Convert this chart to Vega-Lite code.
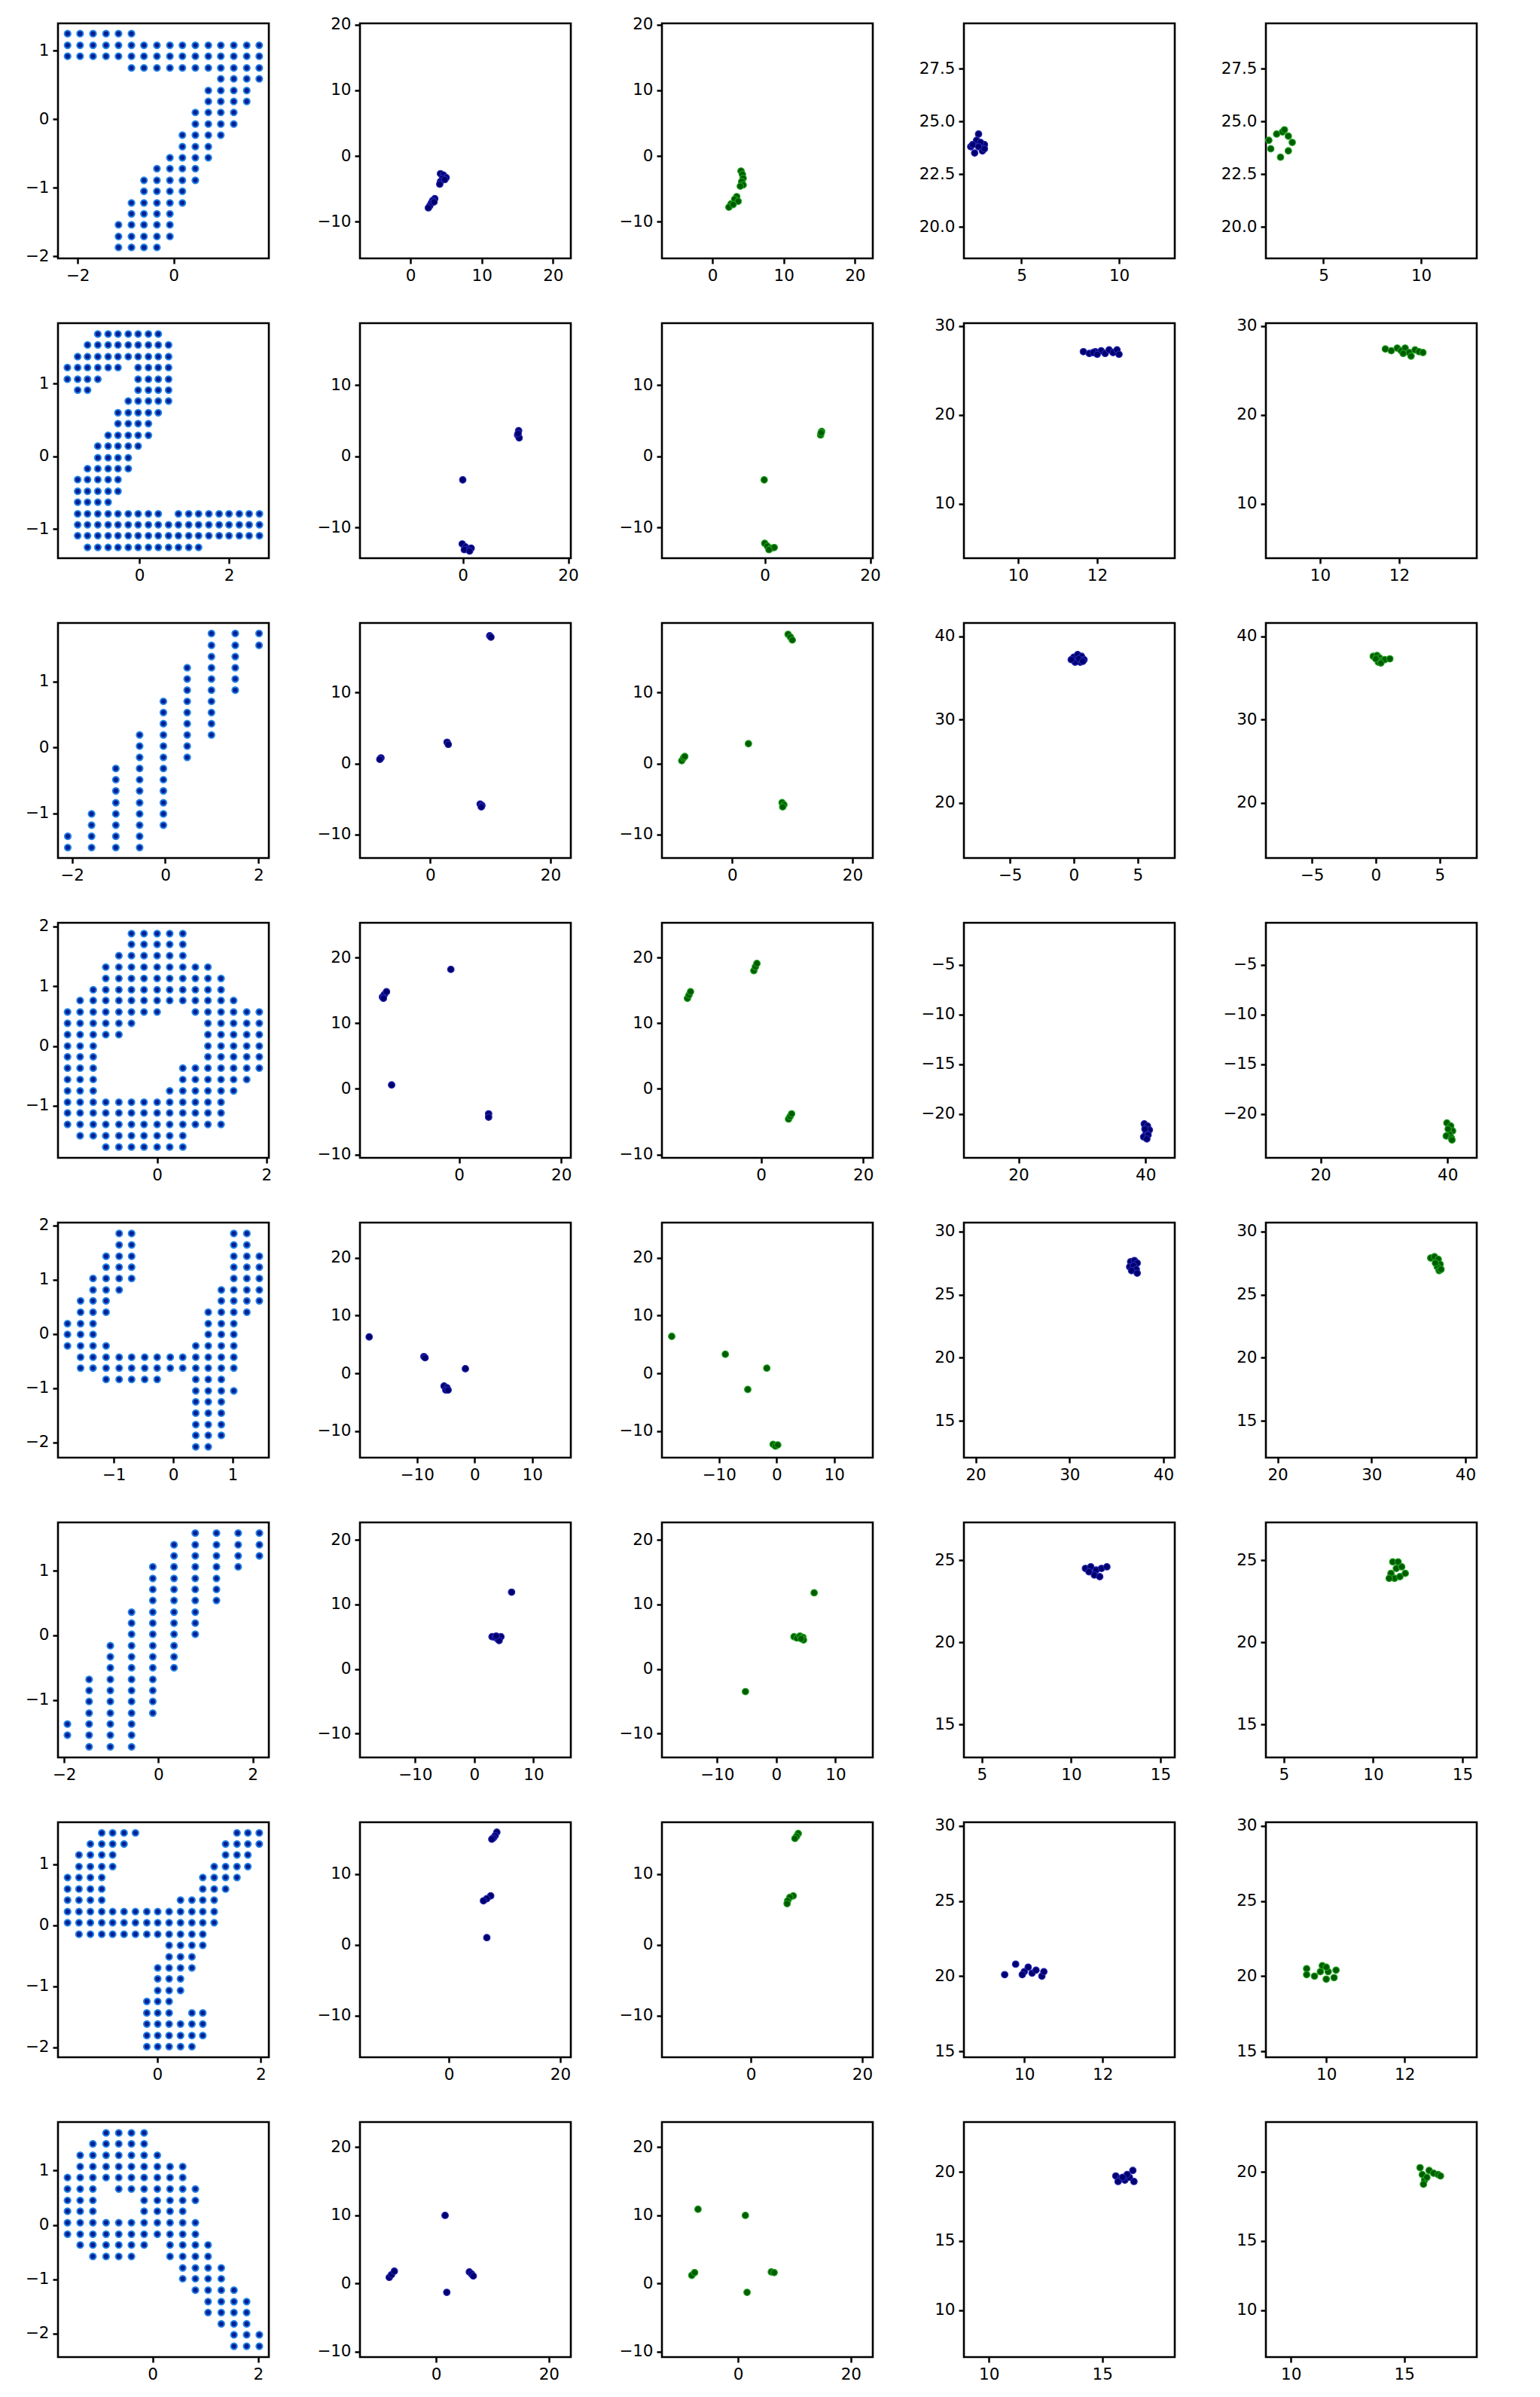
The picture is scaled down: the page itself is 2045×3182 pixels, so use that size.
{
"$schema":"https://vega.github.io/schema/vega-lite/v6.json",
"background":"white",
"padding":{"left":32,"top":20,"right":0,"bottom":0},
"columns":5,
"spacing":{"row":86,"column":121},
"bounds":"flush",
"config":{
"view":{"stroke":"#000","strokeWidth":2.6,"continuousWidth":280,"continuousHeight":312},
"axis":{"domain":false,"grid":false,"tickColor":"#000","tickSize":7,"tickWidth":2.5,"labelFont":"DejaVu Sans","labelFontSize":21.5,"labelColor":"#000","labelPadding":5,"labelFlush":false,"labelOverlap":false}
},
"datasets":{
"d1":[
{"x":-2.21,"y":1.25},{"x":-1.95,"y":1.25},{"x":-1.68,"y":1.25},{"x":-1.41,"y":1.25},{"x":-1.15,"y":1.25},{"x":-0.88,"y":1.25},
{"x":-2.21,"y":1.08},{"x":-1.95,"y":1.08},{"x":-1.68,"y":1.08},{"x":-1.41,"y":1.08},{"x":-1.15,"y":1.08},{"x":-0.88,"y":1.08},{"x":-0.62,"y":1.08},{"x":-0.35,"y":1.08},{"x":-0.08,"y":1.08},{"x":0.18,"y":1.08},{"x":0.45,"y":1.08},{"x":0.72,"y":1.08},{"x":0.98,"y":1.08},{"x":1.25,"y":1.08},{"x":1.52,"y":1.08},{"x":1.78,"y":1.08},
{"x":-2.21,"y":0.92},{"x":-1.95,"y":0.92},{"x":-1.68,"y":0.92},{"x":-1.41,"y":0.92},{"x":-1.15,"y":0.92},{"x":-0.88,"y":0.92},{"x":-0.62,"y":0.92},{"x":-0.35,"y":0.92},{"x":-0.08,"y":0.92},{"x":0.18,"y":0.92},{"x":0.45,"y":0.92},{"x":0.72,"y":0.92},{"x":0.98,"y":0.92},{"x":1.25,"y":0.92},{"x":1.52,"y":0.92},{"x":1.78,"y":0.92},
{"x":-0.88,"y":0.75},{"x":-0.62,"y":0.75},{"x":-0.35,"y":0.75},{"x":-0.08,"y":0.75},{"x":0.18,"y":0.75},{"x":0.45,"y":0.75},{"x":0.72,"y":0.75},{"x":0.98,"y":0.75},{"x":1.25,"y":0.75},{"x":1.52,"y":0.75},{"x":1.78,"y":0.75},
{"x":0.98,"y":0.59},{"x":1.25,"y":0.59},{"x":1.52,"y":0.59},{"x":1.78,"y":0.59},
{"x":0.72,"y":0.42},{"x":0.98,"y":0.42},{"x":1.25,"y":0.42},{"x":1.52,"y":0.42},
{"x":0.72,"y":0.26},{"x":0.98,"y":0.26},{"x":1.25,"y":0.26},{"x":1.52,"y":0.26},
{"x":0.45,"y":0.10},{"x":0.72,"y":0.10},{"x":0.98,"y":0.10},{"x":1.25,"y":0.10},
{"x":0.45,"y":-0.07},{"x":0.72,"y":-0.07},{"x":0.98,"y":-0.07},{"x":1.25,"y":-0.07},
{"x":0.18,"y":-0.23},{"x":0.45,"y":-0.23},{"x":0.72,"y":-0.23},{"x":0.98,"y":-0.23},
{"x":0.18,"y":-0.40},{"x":0.45,"y":-0.40},{"x":0.72,"y":-0.40},
{"x":-0.08,"y":-0.56},{"x":0.18,"y":-0.56},{"x":0.45,"y":-0.56},{"x":0.72,"y":-0.56},
{"x":-0.35,"y":-0.72},{"x":-0.08,"y":-0.72},{"x":0.18,"y":-0.72},{"x":0.45,"y":-0.72},
{"x":-0.62,"y":-0.89},{"x":-0.35,"y":-0.89},{"x":-0.08,"y":-0.89},{"x":0.18,"y":-0.89},{"x":0.45,"y":-0.89},
{"x":-0.62,"y":-1.05},{"x":-0.35,"y":-1.05},{"x":-0.08,"y":-1.05},{"x":0.18,"y":-1.05},
{"x":-0.88,"y":-1.22},{"x":-0.62,"y":-1.22},{"x":-0.35,"y":-1.22},{"x":-0.08,"y":-1.22},{"x":0.18,"y":-1.22},
{"x":-0.88,"y":-1.38},{"x":-0.62,"y":-1.38},{"x":-0.35,"y":-1.38},{"x":-0.08,"y":-1.38},
{"x":-1.15,"y":-1.54},{"x":-0.88,"y":-1.54},{"x":-0.62,"y":-1.54},{"x":-0.35,"y":-1.54},{"x":-0.08,"y":-1.54},
{"x":-1.15,"y":-1.71},{"x":-0.88,"y":-1.71},{"x":-0.62,"y":-1.71},{"x":-0.35,"y":-1.71},{"x":-0.08,"y":-1.71},
{"x":-1.15,"y":-1.87},{"x":-0.88,"y":-1.87},{"x":-0.62,"y":-1.87},{"x":-0.35,"y":-1.87}
],
"d2":[
{"x":-0.93,"y":1.68},{"x":-0.70,"y":1.68},{"x":-0.48,"y":1.68},{"x":-0.25,"y":1.68},{"x":-0.03,"y":1.68},{"x":0.20,"y":1.68},{"x":0.42,"y":1.68},
{"x":-1.16,"y":1.53},{"x":-0.93,"y":1.53},{"x":-0.70,"y":1.53},{"x":-0.48,"y":1.53},{"x":-0.25,"y":1.53},{"x":-0.03,"y":1.53},{"x":0.20,"y":1.53},{"x":0.42,"y":1.53},{"x":0.65,"y":1.53},
{"x":-1.38,"y":1.37},{"x":-1.16,"y":1.37},{"x":-0.93,"y":1.37},{"x":-0.70,"y":1.37},{"x":-0.48,"y":1.37},{"x":-0.25,"y":1.37},{"x":-0.03,"y":1.37},{"x":0.20,"y":1.37},{"x":0.42,"y":1.37},{"x":0.65,"y":1.37},
{"x":-1.61,"y":1.22},{"x":-1.38,"y":1.22},{"x":-1.16,"y":1.22},{"x":-0.93,"y":1.22},{"x":-0.70,"y":1.22},{"x":-0.48,"y":1.22},{"x":-0.03,"y":1.22},{"x":0.20,"y":1.22},{"x":0.42,"y":1.22},{"x":0.65,"y":1.22},
{"x":-1.61,"y":1.06},{"x":-1.38,"y":1.06},{"x":-1.16,"y":1.06},{"x":-0.93,"y":1.06},{"x":-0.03,"y":1.06},{"x":0.20,"y":1.06},{"x":0.42,"y":1.06},{"x":0.65,"y":1.06},
{"x":-1.38,"y":0.91},{"x":-1.16,"y":0.91},{"x":-0.03,"y":0.91},{"x":0.20,"y":0.91},{"x":0.42,"y":0.91},{"x":0.65,"y":0.91},
{"x":-0.25,"y":0.76},{"x":-0.03,"y":0.76},{"x":0.20,"y":0.76},{"x":0.42,"y":0.76},{"x":0.65,"y":0.76},
{"x":-0.48,"y":0.60},{"x":-0.25,"y":0.60},{"x":-0.03,"y":0.60},{"x":0.20,"y":0.60},{"x":0.42,"y":0.60},
{"x":-0.48,"y":0.45},{"x":-0.25,"y":0.45},{"x":-0.03,"y":0.45},{"x":0.20,"y":0.45},
{"x":-0.70,"y":0.29},{"x":-0.48,"y":0.29},{"x":-0.25,"y":0.29},{"x":-0.03,"y":0.29},{"x":0.20,"y":0.29},
{"x":-0.93,"y":0.14},{"x":-0.70,"y":0.14},{"x":-0.48,"y":0.14},{"x":-0.25,"y":0.14},{"x":-0.03,"y":0.14},
{"x":-0.93,"y":-0.02},{"x":-0.70,"y":-0.02},{"x":-0.48,"y":-0.02},{"x":-0.25,"y":-0.02},
{"x":-1.16,"y":-0.17},{"x":-0.93,"y":-0.17},{"x":-0.70,"y":-0.17},{"x":-0.48,"y":-0.17},{"x":-0.25,"y":-0.17},
{"x":-1.38,"y":-0.32},{"x":-1.16,"y":-0.32},{"x":-0.93,"y":-0.32},{"x":-0.70,"y":-0.32},{"x":-0.48,"y":-0.32},
{"x":-1.38,"y":-0.48},{"x":-1.16,"y":-0.48},{"x":-0.93,"y":-0.48},{"x":-0.70,"y":-0.48},{"x":-0.48,"y":-0.48},
{"x":-1.38,"y":-0.63},{"x":-1.16,"y":-0.63},{"x":-0.93,"y":-0.63},{"x":-0.70,"y":-0.63},
{"x":-1.38,"y":-0.79},{"x":-1.16,"y":-0.79},{"x":-0.93,"y":-0.79},{"x":-0.70,"y":-0.79},{"x":-0.48,"y":-0.79},{"x":-0.25,"y":-0.79},{"x":-0.03,"y":-0.79},{"x":0.20,"y":-0.79},{"x":0.42,"y":-0.79},{"x":0.87,"y":-0.79},{"x":1.10,"y":-0.79},{"x":1.32,"y":-0.79},{"x":1.55,"y":-0.79},{"x":1.78,"y":-0.79},{"x":2.00,"y":-0.79},{"x":2.23,"y":-0.79},{"x":2.45,"y":-0.79},{"x":2.68,"y":-0.79},
{"x":-1.38,"y":-0.94},{"x":-1.16,"y":-0.94},{"x":-0.93,"y":-0.94},{"x":-0.70,"y":-0.94},{"x":-0.48,"y":-0.94},{"x":-0.25,"y":-0.94},{"x":-0.03,"y":-0.94},{"x":0.20,"y":-0.94},{"x":0.42,"y":-0.94},{"x":0.65,"y":-0.94},{"x":0.87,"y":-0.94},{"x":1.10,"y":-0.94},{"x":1.32,"y":-0.94},{"x":1.55,"y":-0.94},{"x":1.78,"y":-0.94},{"x":2.00,"y":-0.94},{"x":2.23,"y":-0.94},{"x":2.45,"y":-0.94},{"x":2.68,"y":-0.94},
{"x":-1.38,"y":-1.09},{"x":-1.16,"y":-1.09},{"x":-0.93,"y":-1.09},{"x":-0.70,"y":-1.09},{"x":-0.48,"y":-1.09},{"x":-0.25,"y":-1.09},{"x":-0.03,"y":-1.09},{"x":0.20,"y":-1.09},{"x":0.42,"y":-1.09},{"x":0.65,"y":-1.09},{"x":0.87,"y":-1.09},{"x":1.10,"y":-1.09},{"x":1.32,"y":-1.09},{"x":1.55,"y":-1.09},{"x":1.78,"y":-1.09},{"x":2.00,"y":-1.09},{"x":2.23,"y":-1.09},{"x":2.45,"y":-1.09},{"x":2.68,"y":-1.09},
{"x":-1.16,"y":-1.25},{"x":-0.93,"y":-1.25},{"x":-0.70,"y":-1.25},{"x":-0.48,"y":-1.25},{"x":-0.25,"y":-1.25},{"x":-0.03,"y":-1.25},{"x":0.20,"y":-1.25},{"x":0.42,"y":-1.25},{"x":0.65,"y":-1.25},{"x":0.87,"y":-1.25},{"x":1.10,"y":-1.25},{"x":1.32,"y":-1.25}
],
"d3":[
{"x":2.01,"y":1.73},{"x":2.01,"y":1.55},
{"x":1.50,"y":1.73},{"x":1.50,"y":1.55},{"x":1.50,"y":1.38},{"x":1.50,"y":1.21},{"x":1.50,"y":1.04},{"x":1.50,"y":0.87},
{"x":0.99,"y":1.73},{"x":0.99,"y":1.55},{"x":0.99,"y":1.38},{"x":0.99,"y":1.21},{"x":0.99,"y":1.04},{"x":0.99,"y":0.87},{"x":0.99,"y":0.70},{"x":0.99,"y":0.53},{"x":0.99,"y":0.36},{"x":0.99,"y":0.19},
{"x":0.47,"y":1.21},{"x":0.47,"y":1.04},{"x":0.47,"y":0.87},{"x":0.47,"y":0.70},{"x":0.47,"y":0.53},{"x":0.47,"y":0.36},{"x":0.47,"y":0.19},{"x":0.47,"y":0.02},{"x":0.47,"y":-0.15},
{"x":-0.04,"y":0.70},{"x":-0.04,"y":0.53},{"x":-0.04,"y":0.36},{"x":-0.04,"y":0.19},{"x":-0.04,"y":0.02},{"x":-0.04,"y":-0.15},{"x":-0.04,"y":-0.32},{"x":-0.04,"y":-0.49},{"x":-0.04,"y":-0.66},{"x":-0.04,"y":-0.84},{"x":-0.04,"y":-1.01},{"x":-0.04,"y":-1.18},
{"x":-0.55,"y":0.19},{"x":-0.55,"y":0.02},{"x":-0.55,"y":-0.15},{"x":-0.55,"y":-0.32},{"x":-0.55,"y":-0.49},{"x":-0.55,"y":-0.66},{"x":-0.55,"y":-0.84},{"x":-0.55,"y":-1.01},{"x":-0.55,"y":-1.18},{"x":-0.55,"y":-1.35},{"x":-0.55,"y":-1.52},
{"x":-1.06,"y":-0.32},{"x":-1.06,"y":-0.49},{"x":-1.06,"y":-0.66},{"x":-1.06,"y":-0.84},{"x":-1.06,"y":-1.01},{"x":-1.06,"y":-1.18},{"x":-1.06,"y":-1.35},{"x":-1.06,"y":-1.52},
{"x":-1.58,"y":-1.01},{"x":-1.58,"y":-1.18},{"x":-1.58,"y":-1.35},{"x":-1.58,"y":-1.52},
{"x":-2.09,"y":-1.35},{"x":-2.09,"y":-1.52}
],
"d4":[
{"x":-0.47,"y":1.88},{"x":-0.24,"y":1.88},{"x":0.00,"y":1.88},{"x":0.23,"y":1.88},{"x":0.47,"y":1.88},
{"x":-0.47,"y":1.70},{"x":-0.24,"y":1.70},{"x":0.00,"y":1.70},{"x":0.23,"y":1.70},{"x":0.47,"y":1.70},
{"x":-0.70,"y":1.51},{"x":-0.47,"y":1.51},{"x":-0.24,"y":1.51},{"x":0.00,"y":1.51},{"x":0.23,"y":1.51},{"x":0.47,"y":1.51},
{"x":-0.94,"y":1.32},{"x":-0.70,"y":1.32},{"x":-0.47,"y":1.32},{"x":-0.24,"y":1.32},{"x":0.00,"y":1.32},{"x":0.23,"y":1.32},{"x":0.47,"y":1.32},{"x":0.70,"y":1.32},{"x":0.93,"y":1.32},
{"x":-0.94,"y":1.13},{"x":-0.70,"y":1.13},{"x":-0.47,"y":1.13},{"x":-0.24,"y":1.13},{"x":0.00,"y":1.13},{"x":0.23,"y":1.13},{"x":0.47,"y":1.13},{"x":0.70,"y":1.13},{"x":0.93,"y":1.13},{"x":1.17,"y":1.13},
{"x":-1.17,"y":0.94},{"x":-0.94,"y":0.94},{"x":-0.70,"y":0.94},{"x":-0.47,"y":0.94},{"x":-0.24,"y":0.94},{"x":0.00,"y":0.94},{"x":0.23,"y":0.94},{"x":0.47,"y":0.94},{"x":0.70,"y":0.94},{"x":0.93,"y":0.94},{"x":1.17,"y":0.94},
{"x":-1.41,"y":0.76},{"x":-1.17,"y":0.76},{"x":-0.94,"y":0.76},{"x":-0.70,"y":0.76},{"x":-0.47,"y":0.76},{"x":-0.24,"y":0.76},{"x":0.00,"y":0.76},{"x":0.23,"y":0.76},{"x":0.47,"y":0.76},{"x":0.70,"y":0.76},{"x":0.93,"y":0.76},{"x":1.17,"y":0.76},{"x":1.40,"y":0.76},
{"x":-1.64,"y":0.57},{"x":-1.41,"y":0.57},{"x":-1.17,"y":0.57},{"x":-0.94,"y":0.57},{"x":-0.70,"y":0.57},{"x":-0.47,"y":0.57},{"x":-0.24,"y":0.57},{"x":0.00,"y":0.57},{"x":0.70,"y":0.57},{"x":0.93,"y":0.57},{"x":1.17,"y":0.57},{"x":1.40,"y":0.57},{"x":1.64,"y":0.57},{"x":1.87,"y":0.57},
{"x":-1.64,"y":0.38},{"x":-1.41,"y":0.38},{"x":-1.17,"y":0.38},{"x":-0.94,"y":0.38},{"x":-0.70,"y":0.38},{"x":-0.47,"y":0.38},{"x":0.93,"y":0.38},{"x":1.17,"y":0.38},{"x":1.40,"y":0.38},{"x":1.64,"y":0.38},{"x":1.87,"y":0.38},
{"x":-1.64,"y":0.19},{"x":-1.41,"y":0.19},{"x":-1.17,"y":0.19},{"x":-0.94,"y":0.19},{"x":-0.70,"y":0.19},{"x":0.93,"y":0.19},{"x":1.17,"y":0.19},{"x":1.40,"y":0.19},{"x":1.64,"y":0.19},{"x":1.87,"y":0.19},
{"x":-1.64,"y":0.00},{"x":-1.41,"y":0.00},{"x":-1.17,"y":0.00},{"x":0.93,"y":0.00},{"x":1.17,"y":0.00},{"x":1.40,"y":0.00},{"x":1.64,"y":0.00},{"x":1.87,"y":0.00},
{"x":-1.64,"y":-0.18},{"x":-1.41,"y":-0.18},{"x":-1.17,"y":-0.18},{"x":0.93,"y":-0.18},{"x":1.17,"y":-0.18},{"x":1.40,"y":-0.18},{"x":1.64,"y":-0.18},{"x":1.87,"y":-0.18},
{"x":-1.64,"y":-0.37},{"x":-1.41,"y":-0.37},{"x":-1.17,"y":-0.37},{"x":0.47,"y":-0.37},{"x":0.70,"y":-0.37},{"x":0.93,"y":-0.37},{"x":1.17,"y":-0.37},{"x":1.40,"y":-0.37},{"x":1.64,"y":-0.37},{"x":1.87,"y":-0.37},
{"x":-1.64,"y":-0.56},{"x":-1.41,"y":-0.56},{"x":-1.17,"y":-0.56},{"x":0.47,"y":-0.56},{"x":0.70,"y":-0.56},{"x":0.93,"y":-0.56},{"x":1.17,"y":-0.56},{"x":1.40,"y":-0.56},{"x":1.64,"y":-0.56},
{"x":-1.64,"y":-0.75},{"x":-1.41,"y":-0.75},{"x":-1.17,"y":-0.75},{"x":0.23,"y":-0.75},{"x":0.47,"y":-0.75},{"x":0.70,"y":-0.75},{"x":0.93,"y":-0.75},{"x":1.17,"y":-0.75},{"x":1.40,"y":-0.75},
{"x":-1.64,"y":-0.94},{"x":-1.41,"y":-0.94},{"x":-1.17,"y":-0.94},{"x":-0.94,"y":-0.94},{"x":-0.70,"y":-0.94},{"x":-0.47,"y":-0.94},{"x":-0.24,"y":-0.94},{"x":0.00,"y":-0.94},{"x":0.23,"y":-0.94},{"x":0.47,"y":-0.94},{"x":0.70,"y":-0.94},{"x":0.93,"y":-0.94},{"x":1.17,"y":-0.94},
{"x":-1.64,"y":-1.12},{"x":-1.41,"y":-1.12},{"x":-1.17,"y":-1.12},{"x":-0.94,"y":-1.12},{"x":-0.70,"y":-1.12},{"x":-0.47,"y":-1.12},{"x":-0.24,"y":-1.12},{"x":0.00,"y":-1.12},{"x":0.23,"y":-1.12},{"x":0.47,"y":-1.12},{"x":0.70,"y":-1.12},{"x":0.93,"y":-1.12},{"x":1.17,"y":-1.12},
{"x":-1.64,"y":-1.31},{"x":-1.41,"y":-1.31},{"x":-1.17,"y":-1.31},{"x":-0.94,"y":-1.31},{"x":-0.70,"y":-1.31},{"x":-0.47,"y":-1.31},{"x":-0.24,"y":-1.31},{"x":0.00,"y":-1.31},{"x":0.23,"y":-1.31},{"x":0.47,"y":-1.31},{"x":0.70,"y":-1.31},{"x":0.93,"y":-1.31},{"x":1.17,"y":-1.31},
{"x":-1.41,"y":-1.50},{"x":-1.17,"y":-1.50},{"x":-0.94,"y":-1.50},{"x":-0.70,"y":-1.50},{"x":-0.47,"y":-1.50},{"x":-0.24,"y":-1.50},{"x":0.00,"y":-1.50},{"x":0.23,"y":-1.50},{"x":0.47,"y":-1.50},
{"x":-0.94,"y":-1.69},{"x":-0.70,"y":-1.69},{"x":-0.47,"y":-1.69},{"x":-0.24,"y":-1.69},{"x":0.00,"y":-1.69},{"x":0.23,"y":-1.69},{"x":0.47,"y":-1.69}
],
"d5":[
{"x":-0.91,"y":1.85},{"x":-0.70,"y":1.85},{"x":1.02,"y":1.85},{"x":1.24,"y":1.85},
{"x":-0.91,"y":1.64},{"x":-0.70,"y":1.64},{"x":1.02,"y":1.64},{"x":1.24,"y":1.64},
{"x":-1.13,"y":1.43},{"x":-0.91,"y":1.43},{"x":-0.70,"y":1.43},{"x":1.02,"y":1.43},{"x":1.24,"y":1.43},{"x":1.45,"y":1.43},
{"x":-1.13,"y":1.23},{"x":-0.91,"y":1.23},{"x":-0.70,"y":1.23},{"x":1.02,"y":1.23},{"x":1.24,"y":1.23},{"x":1.45,"y":1.23},
{"x":-1.35,"y":1.02},{"x":-1.13,"y":1.02},{"x":-0.91,"y":1.02},{"x":-0.70,"y":1.02},{"x":1.02,"y":1.02},{"x":1.24,"y":1.02},{"x":1.45,"y":1.02},
{"x":-1.35,"y":0.81},{"x":-1.13,"y":0.81},{"x":-0.91,"y":0.81},{"x":0.81,"y":0.81},{"x":1.02,"y":0.81},{"x":1.24,"y":0.81},{"x":1.45,"y":0.81},
{"x":-1.56,"y":0.61},{"x":-1.35,"y":0.61},{"x":-1.13,"y":0.61},{"x":0.81,"y":0.61},{"x":1.02,"y":0.61},{"x":1.24,"y":0.61},{"x":1.45,"y":0.61},
{"x":-1.56,"y":0.40},{"x":-1.35,"y":0.40},{"x":-1.13,"y":0.40},{"x":0.59,"y":0.40},{"x":0.81,"y":0.40},{"x":1.02,"y":0.40},{"x":1.24,"y":0.40},
{"x":-1.78,"y":0.19},{"x":-1.56,"y":0.19},{"x":-1.35,"y":0.19},{"x":0.59,"y":0.19},{"x":0.81,"y":0.19},{"x":1.02,"y":0.19},
{"x":-1.78,"y":-0.01},{"x":-1.56,"y":-0.01},{"x":-1.35,"y":-0.01},{"x":0.59,"y":-0.01},{"x":0.81,"y":-0.01},{"x":1.02,"y":-0.01},
{"x":-1.78,"y":-0.22},{"x":-1.56,"y":-0.22},{"x":-1.35,"y":-0.22},{"x":-1.13,"y":-0.22},{"x":0.38,"y":-0.22},{"x":0.59,"y":-0.22},{"x":0.81,"y":-0.22},{"x":1.02,"y":-0.22},
{"x":-1.56,"y":-0.43},{"x":-1.35,"y":-0.43},{"x":-1.13,"y":-0.43},{"x":-0.91,"y":-0.43},{"x":-0.70,"y":-0.43},{"x":-0.48,"y":-0.43},{"x":-0.27,"y":-0.43},{"x":-0.05,"y":-0.43},{"x":0.16,"y":-0.43},{"x":0.38,"y":-0.43},{"x":0.59,"y":-0.43},{"x":0.81,"y":-0.43},{"x":1.02,"y":-0.43},
{"x":-1.56,"y":-0.63},{"x":-1.35,"y":-0.63},{"x":-1.13,"y":-0.63},{"x":-0.91,"y":-0.63},{"x":-0.70,"y":-0.63},{"x":-0.48,"y":-0.63},{"x":-0.27,"y":-0.63},{"x":-0.05,"y":-0.63},{"x":0.16,"y":-0.63},{"x":0.38,"y":-0.63},{"x":0.59,"y":-0.63},{"x":0.81,"y":-0.63},{"x":1.02,"y":-0.63},
{"x":-1.13,"y":-0.84},{"x":-0.91,"y":-0.84},{"x":-0.70,"y":-0.84},{"x":-0.48,"y":-0.84},{"x":-0.27,"y":-0.84},{"x":0.38,"y":-0.84},{"x":0.59,"y":-0.84},{"x":0.81,"y":-0.84},
{"x":0.38,"y":-1.05},{"x":0.59,"y":-1.05},{"x":0.81,"y":-1.05},{"x":1.02,"y":-1.05},
{"x":0.38,"y":-1.25},{"x":0.59,"y":-1.25},{"x":0.81,"y":-1.25},
{"x":0.38,"y":-1.46},{"x":0.59,"y":-1.46},{"x":0.81,"y":-1.46},
{"x":0.38,"y":-1.67},{"x":0.59,"y":-1.67},{"x":0.81,"y":-1.67},
{"x":0.38,"y":-1.87},{"x":0.59,"y":-1.87},{"x":0.81,"y":-1.87},
{"x":0.38,"y":-2.08},{"x":0.59,"y":-2.08}
],
"d6":[
{"x":2.14,"y":1.58},{"x":2.14,"y":1.40},{"x":2.14,"y":1.23},
{"x":1.69,"y":1.58},{"x":1.69,"y":1.40},{"x":1.69,"y":1.23},{"x":1.69,"y":1.06},
{"x":1.23,"y":1.58},{"x":1.23,"y":1.40},{"x":1.23,"y":1.23},{"x":1.23,"y":1.06},{"x":1.23,"y":0.88},{"x":1.23,"y":0.71},{"x":1.23,"y":0.54},
{"x":0.78,"y":1.58},{"x":0.78,"y":1.40},{"x":0.78,"y":1.23},{"x":0.78,"y":1.06},{"x":0.78,"y":0.88},{"x":0.78,"y":0.71},{"x":0.78,"y":0.54},{"x":0.78,"y":0.36},{"x":0.78,"y":0.19},{"x":0.78,"y":0.02},
{"x":0.33,"y":1.40},{"x":0.33,"y":1.23},{"x":0.33,"y":1.06},{"x":0.33,"y":0.88},{"x":0.33,"y":0.71},{"x":0.33,"y":0.54},{"x":0.33,"y":0.36},{"x":0.33,"y":0.19},{"x":0.33,"y":0.02},{"x":0.33,"y":-0.16},{"x":0.33,"y":-0.33},{"x":0.33,"y":-0.50},
{"x":-0.12,"y":1.06},{"x":-0.12,"y":0.88},{"x":-0.12,"y":0.71},{"x":-0.12,"y":0.54},{"x":-0.12,"y":0.36},{"x":-0.12,"y":0.19},{"x":-0.12,"y":0.02},{"x":-0.12,"y":-0.16},{"x":-0.12,"y":-0.33},{"x":-0.12,"y":-0.50},{"x":-0.12,"y":-0.68},{"x":-0.12,"y":-0.85},{"x":-0.12,"y":-1.02},{"x":-0.12,"y":-1.20},
{"x":-0.57,"y":0.36},{"x":-0.57,"y":0.19},{"x":-0.57,"y":0.02},{"x":-0.57,"y":-0.16},{"x":-0.57,"y":-0.33},{"x":-0.57,"y":-0.50},{"x":-0.57,"y":-0.68},{"x":-0.57,"y":-0.85},{"x":-0.57,"y":-1.02},{"x":-0.57,"y":-1.20},{"x":-0.57,"y":-1.37},{"x":-0.57,"y":-1.54},{"x":-0.57,"y":-1.72},
{"x":-1.02,"y":-0.16},{"x":-1.02,"y":-0.33},{"x":-1.02,"y":-0.50},{"x":-1.02,"y":-0.68},{"x":-1.02,"y":-0.85},{"x":-1.02,"y":-1.02},{"x":-1.02,"y":-1.20},{"x":-1.02,"y":-1.37},{"x":-1.02,"y":-1.54},{"x":-1.02,"y":-1.72},
{"x":-1.47,"y":-0.68},{"x":-1.47,"y":-0.85},{"x":-1.47,"y":-1.02},{"x":-1.47,"y":-1.20},{"x":-1.47,"y":-1.37},{"x":-1.47,"y":-1.54},{"x":-1.47,"y":-1.72},
{"x":-1.93,"y":-1.37},{"x":-1.93,"y":-1.54}
],
"d7":[
{"x":-1.07,"y":1.51},{"x":-0.86,"y":1.51},{"x":-0.64,"y":1.51},{"x":-0.42,"y":1.51},{"x":1.54,"y":1.51},{"x":1.75,"y":1.51},{"x":1.97,"y":1.51},
{"x":-1.29,"y":1.33},{"x":-1.07,"y":1.33},{"x":-0.86,"y":1.33},{"x":-0.64,"y":1.33},{"x":1.32,"y":1.33},{"x":1.54,"y":1.33},{"x":1.75,"y":1.33},{"x":1.97,"y":1.33},
{"x":-1.51,"y":1.15},{"x":-1.29,"y":1.15},{"x":-1.07,"y":1.15},{"x":-0.86,"y":1.15},{"x":1.32,"y":1.15},{"x":1.54,"y":1.15},{"x":1.75,"y":1.15},
{"x":-1.51,"y":0.96},{"x":-1.29,"y":0.96},{"x":-1.07,"y":0.96},{"x":-0.86,"y":0.96},{"x":1.10,"y":0.96},{"x":1.32,"y":0.96},{"x":1.54,"y":0.96},{"x":1.75,"y":0.96},
{"x":-1.73,"y":0.78},{"x":-1.51,"y":0.78},{"x":-1.29,"y":0.78},{"x":-1.07,"y":0.78},{"x":0.88,"y":0.78},{"x":1.10,"y":0.78},{"x":1.32,"y":0.78},{"x":1.54,"y":0.78},
{"x":-1.73,"y":0.59},{"x":-1.51,"y":0.59},{"x":-1.29,"y":0.59},{"x":-1.07,"y":0.59},{"x":0.88,"y":0.59},{"x":1.10,"y":0.59},{"x":1.32,"y":0.59},
{"x":-1.73,"y":0.41},{"x":-1.51,"y":0.41},{"x":-1.29,"y":0.41},{"x":-1.07,"y":0.41},{"x":0.45,"y":0.41},{"x":0.67,"y":0.41},{"x":0.88,"y":0.41},{"x":1.10,"y":0.41},
{"x":-1.73,"y":0.22},{"x":-1.51,"y":0.22},{"x":-1.29,"y":0.22},{"x":-1.07,"y":0.22},{"x":-0.86,"y":0.22},{"x":-0.64,"y":0.22},{"x":-0.42,"y":0.22},{"x":-0.20,"y":0.22},{"x":0.01,"y":0.22},{"x":0.23,"y":0.22},{"x":0.45,"y":0.22},{"x":0.67,"y":0.22},{"x":0.88,"y":0.22},{"x":1.10,"y":0.22},
{"x":-1.73,"y":0.04},{"x":-1.51,"y":0.04},{"x":-1.29,"y":0.04},{"x":-1.07,"y":0.04},{"x":-0.86,"y":0.04},{"x":-0.64,"y":0.04},{"x":-0.42,"y":0.04},{"x":-0.20,"y":0.04},{"x":0.01,"y":0.04},{"x":0.23,"y":0.04},{"x":0.45,"y":0.04},{"x":0.67,"y":0.04},{"x":0.88,"y":0.04},{"x":1.10,"y":0.04},
{"x":-1.51,"y":-0.15},{"x":-1.29,"y":-0.15},{"x":-1.07,"y":-0.15},{"x":-0.86,"y":-0.15},{"x":-0.64,"y":-0.15},{"x":-0.42,"y":-0.15},{"x":-0.20,"y":-0.15},{"x":0.01,"y":-0.15},{"x":0.23,"y":-0.15},{"x":0.45,"y":-0.15},{"x":0.67,"y":-0.15},{"x":0.88,"y":-0.15},
{"x":0.23,"y":-0.33},{"x":0.45,"y":-0.33},{"x":0.67,"y":-0.33},{"x":0.88,"y":-0.33},
{"x":0.23,"y":-0.52},{"x":0.45,"y":-0.52},{"x":0.67,"y":-0.52},
{"x":0.01,"y":-0.70},{"x":0.23,"y":-0.70},{"x":0.45,"y":-0.70},{"x":0.67,"y":-0.70},
{"x":0.01,"y":-0.88},{"x":0.23,"y":-0.88},{"x":0.45,"y":-0.88},
{"x":0.01,"y":-1.07},{"x":0.23,"y":-1.07},{"x":0.45,"y":-1.07},
{"x":-0.20,"y":-1.25},{"x":0.01,"y":-1.25},{"x":0.23,"y":-1.25},
{"x":-0.20,"y":-1.44},{"x":0.01,"y":-1.44},{"x":0.23,"y":-1.44},{"x":0.67,"y":-1.44},{"x":0.88,"y":-1.44},
{"x":-0.20,"y":-1.62},{"x":0.01,"y":-1.62},{"x":0.23,"y":-1.62},{"x":0.45,"y":-1.62},{"x":0.67,"y":-1.62},{"x":0.88,"y":-1.62},
{"x":-0.20,"y":-1.81},{"x":0.01,"y":-1.81},{"x":0.23,"y":-1.81},{"x":0.45,"y":-1.81},{"x":0.67,"y":-1.81},{"x":0.88,"y":-1.81},
{"x":-0.20,"y":-1.99},{"x":0.01,"y":-1.99},{"x":0.23,"y":-1.99},{"x":0.45,"y":-1.99},{"x":0.67,"y":-1.99}
],
"d8":[
{"x":-0.88,"y":1.69},{"x":-0.64,"y":1.69},{"x":-0.40,"y":1.69},{"x":-0.16,"y":1.69},
{"x":-1.13,"y":1.49},{"x":-0.88,"y":1.49},{"x":-0.64,"y":1.49},{"x":-0.40,"y":1.49},{"x":-0.16,"y":1.49},
{"x":-1.37,"y":1.28},{"x":-1.13,"y":1.28},{"x":-0.88,"y":1.28},{"x":-0.64,"y":1.28},{"x":-0.40,"y":1.28},{"x":-0.16,"y":1.28},{"x":0.09,"y":1.28},
{"x":-1.37,"y":1.07},{"x":-1.13,"y":1.07},{"x":-0.88,"y":1.07},{"x":-0.64,"y":1.07},{"x":-0.40,"y":1.07},{"x":-0.16,"y":1.07},{"x":0.09,"y":1.07},{"x":0.33,"y":1.07},{"x":0.57,"y":1.07},
{"x":-1.61,"y":0.87},{"x":-1.37,"y":0.87},{"x":-1.13,"y":0.87},{"x":-0.88,"y":0.87},{"x":-0.64,"y":0.87},{"x":-0.40,"y":0.87},{"x":-0.16,"y":0.87},{"x":0.09,"y":0.87},{"x":0.33,"y":0.87},{"x":0.57,"y":0.87},
{"x":-1.61,"y":0.66},{"x":-1.37,"y":0.66},{"x":-1.13,"y":0.66},{"x":-0.64,"y":0.66},{"x":-0.40,"y":0.66},{"x":-0.16,"y":0.66},{"x":0.09,"y":0.66},{"x":0.33,"y":0.66},{"x":0.57,"y":0.66},{"x":0.81,"y":0.66},
{"x":-1.61,"y":0.45},{"x":-1.37,"y":0.45},{"x":-1.13,"y":0.45},{"x":-0.16,"y":0.45},{"x":0.09,"y":0.45},{"x":0.33,"y":0.45},{"x":0.57,"y":0.45},{"x":0.81,"y":0.45},
{"x":-1.61,"y":0.25},{"x":-1.37,"y":0.25},{"x":-1.13,"y":0.25},{"x":-0.16,"y":0.25},{"x":0.09,"y":0.25},{"x":0.33,"y":0.25},{"x":0.57,"y":0.25},
{"x":-1.61,"y":0.04},{"x":-1.37,"y":0.04},{"x":-1.13,"y":0.04},{"x":-0.88,"y":0.04},{"x":-0.64,"y":0.04},{"x":-0.40,"y":0.04},{"x":-0.16,"y":0.04},{"x":0.09,"y":0.04},{"x":0.33,"y":0.04},{"x":0.57,"y":0.04},{"x":0.81,"y":0.04},
{"x":-1.61,"y":-0.17},{"x":-1.37,"y":-0.17},{"x":-1.13,"y":-0.17},{"x":-0.88,"y":-0.17},{"x":-0.64,"y":-0.17},{"x":-0.40,"y":-0.17},{"x":-0.16,"y":-0.17},{"x":0.09,"y":-0.17},{"x":0.33,"y":-0.17},{"x":0.57,"y":-0.17},{"x":0.81,"y":-0.17},
{"x":-1.37,"y":-0.37},{"x":-1.13,"y":-0.37},{"x":-0.88,"y":-0.37},{"x":-0.64,"y":-0.37},{"x":-0.40,"y":-0.37},{"x":-0.16,"y":-0.37},{"x":0.33,"y":-0.37},{"x":0.57,"y":-0.37},{"x":0.81,"y":-0.37},{"x":1.05,"y":-0.37},
{"x":-1.13,"y":-0.58},{"x":-0.88,"y":-0.58},{"x":-0.64,"y":-0.58},{"x":-0.40,"y":-0.58},{"x":0.33,"y":-0.58},{"x":0.57,"y":-0.58},{"x":0.81,"y":-0.58},{"x":1.05,"y":-0.58},
{"x":0.57,"y":-0.79},{"x":0.81,"y":-0.79},{"x":1.05,"y":-0.79},{"x":1.30,"y":-0.79},
{"x":0.57,"y":-0.99},{"x":0.81,"y":-0.99},{"x":1.05,"y":-0.99},{"x":1.30,"y":-0.99},
{"x":0.81,"y":-1.20},{"x":1.05,"y":-1.20},{"x":1.30,"y":-1.20},{"x":1.54,"y":-1.20},
{"x":1.05,"y":-1.41},{"x":1.30,"y":-1.41},{"x":1.54,"y":-1.41},{"x":1.78,"y":-1.41},
{"x":1.05,"y":-1.61},{"x":1.30,"y":-1.61},{"x":1.54,"y":-1.61},{"x":1.78,"y":-1.61},
{"x":1.30,"y":-1.82},{"x":1.54,"y":-1.82},{"x":1.78,"y":-1.82},
{"x":1.54,"y":-2.02},{"x":1.78,"y":-2.02},{"x":2.02,"y":-2.02},
{"x":1.54,"y":-2.23},{"x":1.78,"y":-2.23},{"x":2.02,"y":-2.23}
],
"b1":[{"x":4.2,"y":-2.7},{"x":4.6,"y":-2.9},{"x":5.0,"y":-3.3},{"x":4.5,"y":-3.4},{"x":4.2,"y":-3.9},{"x":4.1,"y":-4.3},{"x":4.8,"y":-3.6},{"x":3.4,"y":-6.5},{"x":3.1,"y":-6.8},{"x":2.9,"y":-7.2},{"x":2.7,"y":-7.6},{"x":2.5,"y":-7.9},{"x":3.3,"y":-7.0}],
"g1":[{"x":4.0,"y":-2.3},{"x":4.2,"y":-2.8},{"x":4.3,"y":-3.4},{"x":4.1,"y":-3.9},{"x":4.3,"y":-4.4},{"x":3.9,"y":-4.6},{"x":3.4,"y":-6.2},{"x":3.1,"y":-6.6},{"x":3.6,"y":-6.9},{"x":2.6,"y":-7.3},{"x":2.3,"y":-7.8},{"x":2.9,"y":-7.4}],
"c1":[{"x":2.8,"y":24.4},{"x":2.7,"y":24.1},{"x":2.4,"y":23.8},{"x":3.1,"y":23.9},{"x":2.6,"y":23.5},{"x":3.0,"y":23.6},{"x":2.9,"y":24.0},{"x":2.5,"y":23.9},{"x":3.1,"y":23.7},{"x":2.8,"y":23.8}],
"h1":[{"x":2.9,"y":24.5},{"x":3.2,"y":24.3},{"x":3.4,"y":24.0},{"x":3.2,"y":23.6},{"x":2.8,"y":23.3},{"x":2.3,"y":23.7},{"x":2.2,"y":24.1},{"x":2.6,"y":24.4},{"x":3.0,"y":24.6}],
"b2":[{"x":10.6,"y":3.6},{"x":10.4,"y":3.0},{"x":10.7,"y":2.6},{"x":10.5,"y":3.2},{"x":0.0,"y":-3.3},{"x":-0.1,"y":-12.3},{"x":0.5,"y":-12.7},{"x":1.0,"y":-13.0},{"x":1.6,"y":-12.9},{"x":0.3,"y":-13.1},{"x":1.3,"y":-13.3}],
"g2":[{"x":10.8,"y":3.5},{"x":10.6,"y":3.0},{"x":10.7,"y":3.3},{"x":-0.1,"y":-3.3},{"x":0.0,"y":-12.2},{"x":0.5,"y":-12.6},{"x":1.2,"y":-12.9},{"x":1.8,"y":-12.8},{"x":0.8,"y":-13.1}],
"c2":[{"x":11.65,"y":27.1},{"x":11.8,"y":26.9},{"x":11.95,"y":27.1},{"x":12.1,"y":27.2},{"x":12.2,"y":26.9},{"x":12.3,"y":27.3},{"x":12.4,"y":27.0},{"x":12.5,"y":27.3},{"x":12.55,"y":26.8},{"x":11.9,"y":27.0},{"x":12.0,"y":26.8}],
"h2":[{"x":11.65,"y":27.4},{"x":11.8,"y":27.2},{"x":11.95,"y":27.5},{"x":12.05,"y":27.2},{"x":12.15,"y":27.5},{"x":12.25,"y":27.0},{"x":12.3,"y":26.6},{"x":12.4,"y":27.3},{"x":12.5,"y":27.1},{"x":12.6,"y":27.0},{"x":12.1,"y":26.9}],
"b3":[{"x":-8.2,"y":0.8},{"x":-8.4,"y":0.6},{"x":2.8,"y":3.0},{"x":3.0,"y":2.7},{"x":9.9,"y":18.0},{"x":10.1,"y":17.8},{"x":8.3,"y":-5.7},{"x":8.6,"y":-5.9},{"x":8.5,"y":-6.1}],
"g3":[{"x":-8.4,"y":0.4},{"x":-8.1,"y":0.8},{"x":-7.9,"y":1.0},{"x":2.7,"y":2.8},{"x":9.3,"y":18.2},{"x":9.7,"y":17.8},{"x":10.0,"y":17.4},{"x":8.3,"y":-5.5},{"x":8.6,"y":-5.8},{"x":8.4,"y":-6.1}],
"c3":[{"x":0.0,"y":37.5},{"x":0.3,"y":37.8},{"x":0.6,"y":37.6},{"x":0.8,"y":37.2},{"x":0.5,"y":36.9},{"x":0.1,"y":36.9},{"x":-0.2,"y":37.2},{"x":0.4,"y":37.3},{"x":0.7,"y":37.0}],
"h3":[{"x":-0.2,"y":37.6},{"x":0.1,"y":37.7},{"x":0.3,"y":37.4},{"x":0.5,"y":37.1},{"x":0.2,"y":36.9},{"x":0.7,"y":37.2},{"x":1.1,"y":37.3},{"x":0.0,"y":37.3},{"x":0.4,"y":36.8}],
"b4":[{"x":-15.0,"y":14.0},{"x":-14.6,"y":14.4},{"x":-14.2,"y":14.8},{"x":-14.8,"y":13.8},{"x":-1.6,"y":18.2},{"x":-13.2,"y":0.6},{"x":5.8,"y":-3.8},{"x":5.8,"y":-4.3}],
"g4":[{"x":-14.4,"y":13.8},{"x":-14.1,"y":14.3},{"x":-13.8,"y":14.8},{"x":-1.4,"y":18.0},{"x":-1.1,"y":18.6},{"x":-0.8,"y":19.1},{"x":5.4,"y":-4.6},{"x":5.7,"y":-4.2},{"x":6.0,"y":-3.8}],
"c4":[{"x":39.8,"y":-21.0},{"x":40.3,"y":-21.2},{"x":40.6,"y":-21.6},{"x":40.1,"y":-21.9},{"x":39.7,"y":-22.3},{"x":40.4,"y":-22.1},{"x":39.9,"y":-21.5},{"x":40.2,"y":-22.5}],
"h4":[{"x":39.9,"y":-20.9},{"x":40.5,"y":-21.2},{"x":40.8,"y":-21.7},{"x":40.3,"y":-22.0},{"x":39.8,"y":-22.2},{"x":40.6,"y":-22.4},{"x":40.1,"y":-21.5},{"x":40.7,"y":-22.6}],
"b5":[{"x":-18.3,"y":6.3},{"x":-8.8,"y":2.9},{"x":-8.6,"y":2.7},{"x":-1.6,"y":0.8},{"x":-5.3,"y":-2.2},{"x":-4.8,"y":-2.5},{"x":-5.0,"y":-2.9},{"x":-4.6,"y":-2.9}],
"g5":[{"x":-18.2,"y":6.4},{"x":-8.9,"y":3.3},{"x":-1.7,"y":0.9},{"x":-5.0,"y":-2.8},{"x":-0.6,"y":-12.3},{"x":-0.2,"y":-12.6},{"x":0.2,"y":-12.4}],
"c5":[{"x":36.5,"y":27.6},{"x":36.9,"y":27.7},{"x":37.2,"y":27.5},{"x":36.4,"y":27.2},{"x":36.8,"y":27.3},{"x":37.1,"y":27.0},{"x":36.6,"y":26.9},{"x":37.2,"y":26.7}],
"h5":[{"x":36.3,"y":27.9},{"x":36.7,"y":28.0},{"x":37.1,"y":27.8},{"x":37.3,"y":27.4},{"x":37.0,"y":27.2},{"x":37.2,"y":26.9},{"x":36.8,"y":27.5},{"x":37.4,"y":27.0}],
"b6":[{"x":6.3,"y":11.9},{"x":3.0,"y":5.0},{"x":3.5,"y":4.9},{"x":4.0,"y":4.6},{"x":4.5,"y":5.0},{"x":4.2,"y":4.4},{"x":3.7,"y":5.1}],
"g6":[{"x":6.4,"y":11.8},{"x":3.0,"y":5.0},{"x":3.5,"y":4.8},{"x":4.0,"y":5.1},{"x":4.5,"y":4.9},{"x":4.6,"y":4.5},{"x":4.2,"y":4.7},{"x":-5.2,"y":-3.5}],
"c6":[{"x":10.8,"y":24.5},{"x":11.1,"y":24.6},{"x":11.4,"y":24.4},{"x":11.7,"y":24.5},{"x":12.0,"y":24.6},{"x":11.3,"y":24.1},{"x":11.6,"y":24.0},{"x":11.0,"y":24.3}],
"h6":[{"x":11.1,"y":24.9},{"x":11.4,"y":24.9},{"x":11.3,"y":24.5},{"x":11.0,"y":24.2},{"x":11.2,"y":23.9},{"x":11.5,"y":24.0},{"x":11.8,"y":24.2},{"x":11.6,"y":24.6},{"x":10.9,"y":23.9}],
"b7":[{"x":8.6,"y":15.9},{"x":8.3,"y":15.4},{"x":8.0,"y":15.1},{"x":7.7,"y":14.9},{"x":7.5,"y":6.9},{"x":6.8,"y":6.5},{"x":6.2,"y":6.2},{"x":6.8,"y":1.0}],
"g7":[{"x":8.5,"y":15.7},{"x":8.2,"y":15.3},{"x":7.9,"y":15.0},{"x":7.6,"y":6.9},{"x":7.0,"y":6.7},{"x":6.6,"y":6.2},{"x":6.5,"y":5.8}],
"c7":[{"x":9.5,"y":20.1},{"x":9.78,"y":20.8},{"x":10.0,"y":20.3},{"x":10.1,"y":20.6},{"x":10.2,"y":20.2},{"x":10.3,"y":20.4},{"x":10.45,"y":20.0},{"x":10.5,"y":20.3},{"x":9.95,"y":20.1}],
"h7":[{"x":9.5,"y":20.5},{"x":9.5,"y":20.1},{"x":9.7,"y":20.0},{"x":9.85,"y":20.3},{"x":9.9,"y":20.7},{"x":10.0,"y":19.8},{"x":10.05,"y":20.3},{"x":10.2,"y":19.9},{"x":10.25,"y":20.4},{"x":10.0,"y":20.6}],
"b8":[{"x":1.6,"y":10.0},{"x":-8.3,"y":0.9},{"x":-7.9,"y":1.3},{"x":-7.4,"y":1.8},{"x":5.9,"y":1.7},{"x":6.3,"y":1.4},{"x":6.6,"y":1.1},{"x":1.9,"y":-1.3}],
"g8":[{"x":-7.1,"y":10.9},{"x":1.3,"y":10.0},{"x":-8.2,"y":1.2},{"x":-7.7,"y":1.6},{"x":5.9,"y":1.7},{"x":6.4,"y":1.6},{"x":1.6,"y":-1.3}],
"c8":[{"x":15.6,"y":19.7},{"x":15.8,"y":19.5},{"x":16.0,"y":19.4},{"x":16.2,"y":19.6},{"x":16.4,"y":19.3},{"x":16.35,"y":20.1},{"x":15.7,"y":19.3},{"x":16.1,"y":19.8},{"x":15.9,"y":19.6}],
"h8":[{"x":15.7,"y":20.3},{"x":15.8,"y":19.8},{"x":15.9,"y":19.4},{"x":16.1,"y":20.1},{"x":16.3,"y":19.9},{"x":16.5,"y":19.8},{"x":16.6,"y":19.7},{"x":16.0,"y":19.6},{"x":15.85,"y":19.1}]
},
"concat":[
{"data":{"name":"d1"},"mark":{"type":"circle","size":68,"fill":"#061f93","stroke":"#2584e8","strokeWidth":2,"opacity":1},"encoding":{"x":{"field":"x","type":"quantitative","scale":{"domain":[-2.41,1.98],"nice":false,"zero":false},"axis":{"values":[-2,0],"title":null}},"y":{"field":"y","type":"quantitative","scale":{"domain":[-2.03,1.40],"nice":false,"zero":false},"axis":{"values":[-2,-1,0,1],"title":null}}}},
{"data":{"name":"b1"},"mark":{"type":"circle","size":75,"fill":"#00006e","stroke":"#2424b0","strokeWidth":1.2,"opacity":1},"encoding":{"x":{"field":"x","type":"quantitative","scale":{"domain":[-7.1,22.5],"nice":false,"zero":false},"axis":{"values":[0,10,20],"title":null}},"y":{"field":"y","type":"quantitative","scale":{"domain":[-15.6,20.2],"nice":false,"zero":false},"axis":{"values":[-10,0,10,20],"title":null}}}},
{"data":{"name":"g1"},"mark":{"type":"circle","size":75,"fill":"#005c00","stroke":"#1fa01f","strokeWidth":1.2,"opacity":1},"encoding":{"x":{"field":"x","type":"quantitative","scale":{"domain":[-7.1,22.5],"nice":false,"zero":false},"axis":{"values":[0,10,20],"title":null}},"y":{"field":"y","type":"quantitative","scale":{"domain":[-15.6,20.2],"nice":false,"zero":false},"axis":{"values":[-10,0,10,20],"title":null}}}},
{"data":{"name":"c1"},"mark":{"type":"circle","size":75,"fill":"#00006e","stroke":"#2424b0","strokeWidth":1.2,"opacity":1},"encoding":{"x":{"field":"x","type":"quantitative","scale":{"domain":[2.05,12.85],"nice":false,"zero":false},"axis":{"values":[5,10],"title":null}},"y":{"field":"y","type":"quantitative","scale":{"domain":[18.5,29.65],"nice":false,"zero":false},"axis":{"values":[20,22.5,25,27.5],"format":".1f","title":null}}}},
{"data":{"name":"h1"},"mark":{"type":"circle","size":75,"fill":"#005c00","stroke":"#1fa01f","strokeWidth":1.2,"opacity":1},"encoding":{"x":{"field":"x","type":"quantitative","scale":{"domain":[2.05,12.85],"nice":false,"zero":false},"axis":{"values":[5,10],"title":null}},"y":{"field":"y","type":"quantitative","scale":{"domain":[18.5,29.65],"nice":false,"zero":false},"axis":{"values":[20,22.5,25,27.5],"format":".1f","title":null}}}},

{"data":{"name":"d2"},"mark":{"type":"circle","size":68,"fill":"#061f93","stroke":"#2584e8","strokeWidth":2,"opacity":1},"encoding":{"x":{"field":"x","type":"quantitative","scale":{"domain":[-1.82,2.89],"nice":false,"zero":false},"axis":{"values":[0,2],"title":null}},"y":{"field":"y","type":"quantitative","scale":{"domain":[-1.40,1.83],"nice":false,"zero":false},"axis":{"values":[-1,0,1],"title":null}}}},
{"data":{"name":"b2"},"mark":{"type":"circle","size":75,"fill":"#00006e","stroke":"#2424b0","strokeWidth":1.2,"opacity":1},"encoding":{"x":{"field":"x","type":"quantitative","scale":{"domain":[-19.5,20.5],"nice":false,"zero":false},"axis":{"values":[0,20],"title":null}},"y":{"field":"y","type":"quantitative","scale":{"domain":[-14.3,18.7],"nice":false,"zero":false},"axis":{"values":[-10,0,10],"title":null}}}},
{"data":{"name":"g2"},"mark":{"type":"circle","size":75,"fill":"#005c00","stroke":"#1fa01f","strokeWidth":1.2,"opacity":1},"encoding":{"x":{"field":"x","type":"quantitative","scale":{"domain":[-19.5,20.5],"nice":false,"zero":false},"axis":{"values":[0,20],"title":null}},"y":{"field":"y","type":"quantitative","scale":{"domain":[-14.3,18.7],"nice":false,"zero":false},"axis":{"values":[-10,0,10],"title":null}}}},
{"data":{"name":"c2"},"mark":{"type":"circle","size":75,"fill":"#00006e","stroke":"#2424b0","strokeWidth":1.2,"opacity":1},"encoding":{"x":{"field":"x","type":"quantitative","scale":{"domain":[8.63,13.96],"nice":false,"zero":false},"axis":{"values":[10,12],"title":null}},"y":{"field":"y","type":"quantitative","scale":{"domain":[3.9,30.3],"nice":false,"zero":false},"axis":{"values":[10,20,30],"title":null}}}},
{"data":{"name":"h2"},"mark":{"type":"circle","size":75,"fill":"#005c00","stroke":"#1fa01f","strokeWidth":1.2,"opacity":1},"encoding":{"x":{"field":"x","type":"quantitative","scale":{"domain":[8.63,13.96],"nice":false,"zero":false},"axis":{"values":[10,12],"title":null}},"y":{"field":"y","type":"quantitative","scale":{"domain":[3.9,30.3],"nice":false,"zero":false},"axis":{"values":[10,20,30],"title":null}}}},

{"data":{"name":"d3"},"mark":{"type":"circle","size":68,"fill":"#061f93","stroke":"#2584e8","strokeWidth":2,"opacity":1},"encoding":{"x":{"field":"x","type":"quantitative","scale":{"domain":[-2.30,2.22],"nice":false,"zero":false},"axis":{"values":[-2,0,2],"title":null}},"y":{"field":"y","type":"quantitative","scale":{"domain":[-1.68,1.89],"nice":false,"zero":false},"axis":{"values":[-1,0,1],"title":null}}}},
{"data":{"name":"b3"},"mark":{"type":"circle","size":75,"fill":"#00006e","stroke":"#2424b0","strokeWidth":1.2,"opacity":1},"encoding":{"x":{"field":"x","type":"quantitative","scale":{"domain":[-11.7,23.4],"nice":false,"zero":false},"axis":{"values":[0,20],"title":null}},"y":{"field":"y","type":"quantitative","scale":{"domain":[-13.3,19.8],"nice":false,"zero":false},"axis":{"values":[-10,0,10],"title":null}}}},
{"data":{"name":"g3"},"mark":{"type":"circle","size":75,"fill":"#005c00","stroke":"#1fa01f","strokeWidth":1.2,"opacity":1},"encoding":{"x":{"field":"x","type":"quantitative","scale":{"domain":[-11.7,23.4],"nice":false,"zero":false},"axis":{"values":[0,20],"title":null}},"y":{"field":"y","type":"quantitative","scale":{"domain":[-13.3,19.8],"nice":false,"zero":false},"axis":{"values":[-10,0,10],"title":null}}}},
{"data":{"name":"c3"},"mark":{"type":"circle","size":75,"fill":"#00006e","stroke":"#2424b0","strokeWidth":1.2,"opacity":1},"encoding":{"x":{"field":"x","type":"quantitative","scale":{"domain":[-8.6,7.9],"nice":false,"zero":false},"axis":{"values":[-5,0,5],"title":null}},"y":{"field":"y","type":"quantitative","scale":{"domain":[13.4,41.6],"nice":false,"zero":false},"axis":{"values":[20,30,40],"title":null}}}},
{"data":{"name":"h3"},"mark":{"type":"circle","size":75,"fill":"#005c00","stroke":"#1fa01f","strokeWidth":1.2,"opacity":1},"encoding":{"x":{"field":"x","type":"quantitative","scale":{"domain":[-8.6,7.9],"nice":false,"zero":false},"axis":{"values":[-5,0,5],"title":null}},"y":{"field":"y","type":"quantitative","scale":{"domain":[13.4,41.6],"nice":false,"zero":false},"axis":{"values":[20,30,40],"title":null}}}},

{"data":{"name":"d4"},"mark":{"type":"circle","size":68,"fill":"#061f93","stroke":"#2584e8","strokeWidth":2,"opacity":1},"encoding":{"x":{"field":"x","type":"quantitative","scale":{"domain":[-1.815,2.045],"nice":false,"zero":false},"axis":{"values":[0,2],"title":null}},"y":{"field":"y","type":"quantitative","scale":{"domain":[-1.87,2.06],"nice":false,"zero":false},"axis":{"values":[-1,0,1,2],"title":null}}}},
{"data":{"name":"b4"},"mark":{"type":"circle","size":75,"fill":"#00006e","stroke":"#2424b0","strokeWidth":1.2,"opacity":1},"encoding":{"x":{"field":"x","type":"quantitative","scale":{"domain":[-19.4,21.9],"nice":false,"zero":false},"axis":{"values":[0,20],"title":null}},"y":{"field":"y","type":"quantitative","scale":{"domain":[-10.5,25.3],"nice":false,"zero":false},"axis":{"values":[-10,0,10,20],"title":null}}}},
{"data":{"name":"g4"},"mark":{"type":"circle","size":75,"fill":"#005c00","stroke":"#1fa01f","strokeWidth":1.2,"opacity":1},"encoding":{"x":{"field":"x","type":"quantitative","scale":{"domain":[-19.4,21.9],"nice":false,"zero":false},"axis":{"values":[0,20],"title":null}},"y":{"field":"y","type":"quantitative","scale":{"domain":[-10.5,25.3],"nice":false,"zero":false},"axis":{"values":[-10,0,10,20],"title":null}}}},
{"data":{"name":"c4"},"mark":{"type":"circle","size":75,"fill":"#00006e","stroke":"#2424b0","strokeWidth":1.2,"opacity":1},"encoding":{"x":{"field":"x","type":"quantitative","scale":{"domain":[11.4,44.6],"nice":false,"zero":false},"axis":{"values":[20,40],"title":null}},"y":{"field":"y","type":"quantitative","scale":{"domain":[-24.4,-0.8],"nice":false,"zero":false},"axis":{"values":[-20,-15,-10,-5],"title":null}}}},
{"data":{"name":"h4"},"mark":{"type":"circle","size":75,"fill":"#005c00","stroke":"#1fa01f","strokeWidth":1.2,"opacity":1},"encoding":{"x":{"field":"x","type":"quantitative","scale":{"domain":[11.4,44.6],"nice":false,"zero":false},"axis":{"values":[20,40],"title":null}},"y":{"field":"y","type":"quantitative","scale":{"domain":[-24.4,-0.8],"nice":false,"zero":false},"axis":{"values":[-20,-15,-10,-5],"title":null}}}},

{"data":{"name":"d5"},"mark":{"type":"circle","size":68,"fill":"#061f93","stroke":"#2584e8","strokeWidth":2,"opacity":1},"encoding":{"x":{"field":"x","type":"quantitative","scale":{"domain":[-1.94,1.61],"nice":false,"zero":false},"axis":{"values":[-1,0,1],"title":null}},"y":{"field":"y","type":"quantitative","scale":{"domain":[-2.28,2.05],"nice":false,"zero":false},"axis":{"values":[-2,-1,0,1,2],"title":null}}}},
{"data":{"name":"b5"},"mark":{"type":"circle","size":75,"fill":"#00006e","stroke":"#2424b0","strokeWidth":1.2,"opacity":1},"encoding":{"x":{"field":"x","type":"quantitative","scale":{"domain":[-19.9,16.7],"nice":false,"zero":false},"axis":{"values":[-10,0,10],"title":null}},"y":{"field":"y","type":"quantitative","scale":{"domain":[-14.6,26.1],"nice":false,"zero":false},"axis":{"values":[-10,0,10,20],"title":null}}}},
{"data":{"name":"g5"},"mark":{"type":"circle","size":75,"fill":"#005c00","stroke":"#1fa01f","strokeWidth":1.2,"opacity":1},"encoding":{"x":{"field":"x","type":"quantitative","scale":{"domain":[-19.9,16.7],"nice":false,"zero":false},"axis":{"values":[-10,0,10],"title":null}},"y":{"field":"y","type":"quantitative","scale":{"domain":[-14.6,26.1],"nice":false,"zero":false},"axis":{"values":[-10,0,10,20],"title":null}}}},
{"data":{"name":"c5"},"mark":{"type":"circle","size":75,"fill":"#00006e","stroke":"#2424b0","strokeWidth":1.2,"opacity":1},"encoding":{"x":{"field":"x","type":"quantitative","scale":{"domain":[18.75,41.2],"nice":false,"zero":false},"axis":{"values":[20,30,40],"title":null}},"y":{"field":"y","type":"quantitative","scale":{"domain":[12.1,30.7],"nice":false,"zero":false},"axis":{"values":[15,20,25,30],"title":null}}}},
{"data":{"name":"h5"},"mark":{"type":"circle","size":75,"fill":"#005c00","stroke":"#1fa01f","strokeWidth":1.2,"opacity":1},"encoding":{"x":{"field":"x","type":"quantitative","scale":{"domain":[18.75,41.2],"nice":false,"zero":false},"axis":{"values":[20,30,40],"title":null}},"y":{"field":"y","type":"quantitative","scale":{"domain":[12.1,30.7],"nice":false,"zero":false},"axis":{"values":[15,20,25,30],"title":null}}}},

{"data":{"name":"d6"},"mark":{"type":"circle","size":68,"fill":"#061f93","stroke":"#2584e8","strokeWidth":2,"opacity":1},"encoding":{"x":{"field":"x","type":"quantitative","scale":{"domain":[-2.13,2.34],"nice":false,"zero":false},"axis":{"values":[-2,0,2],"title":null}},"y":{"field":"y","type":"quantitative","scale":{"domain":[-1.885,1.745],"nice":false,"zero":false},"axis":{"values":[-1,0,1],"title":null}}}},
{"data":{"name":"b6"},"mark":{"type":"circle","size":75,"fill":"#00006e","stroke":"#2424b0","strokeWidth":1.2,"opacity":1},"encoding":{"x":{"field":"x","type":"quantitative","scale":{"domain":[-19.3,16.3],"nice":false,"zero":false},"axis":{"values":[-10,0,10],"title":null}},"y":{"field":"y","type":"quantitative","scale":{"domain":[-13.7,22.7],"nice":false,"zero":false},"axis":{"values":[-10,0,10,20],"title":null}}}},
{"data":{"name":"g6"},"mark":{"type":"circle","size":75,"fill":"#005c00","stroke":"#1fa01f","strokeWidth":1.2,"opacity":1},"encoding":{"x":{"field":"x","type":"quantitative","scale":{"domain":[-19.3,16.3],"nice":false,"zero":false},"axis":{"values":[-10,0,10],"title":null}},"y":{"field":"y","type":"quantitative","scale":{"domain":[-13.7,22.7],"nice":false,"zero":false},"axis":{"values":[-10,0,10,20],"title":null}}}},
{"data":{"name":"c6"},"mark":{"type":"circle","size":75,"fill":"#00006e","stroke":"#2424b0","strokeWidth":1.2,"opacity":1},"encoding":{"x":{"field":"x","type":"quantitative","scale":{"domain":[4.0,15.8],"nice":false,"zero":false},"axis":{"values":[5,10,15],"title":null}},"y":{"field":"y","type":"quantitative","scale":{"domain":[13.0,27.3],"nice":false,"zero":false},"axis":{"values":[15,20,25],"title":null}}}},
{"data":{"name":"h6"},"mark":{"type":"circle","size":75,"fill":"#005c00","stroke":"#1fa01f","strokeWidth":1.2,"opacity":1},"encoding":{"x":{"field":"x","type":"quantitative","scale":{"domain":[4.0,15.8],"nice":false,"zero":false},"axis":{"values":[5,10,15],"title":null}},"y":{"field":"y","type":"quantitative","scale":{"domain":[13.0,27.3],"nice":false,"zero":false},"axis":{"values":[15,20,25],"title":null}}}},

{"data":{"name":"d7"},"mark":{"type":"circle","size":68,"fill":"#061f93","stroke":"#2584e8","strokeWidth":2,"opacity":1},"encoding":{"x":{"field":"x","type":"quantitative","scale":{"domain":[-1.915,2.155],"nice":false,"zero":false},"axis":{"values":[0,2],"title":null}},"y":{"field":"y","type":"quantitative","scale":{"domain":[-2.165,1.685],"nice":false,"zero":false},"axis":{"values":[-2,-1,0,1],"title":null}}}},
{"data":{"name":"b7"},"mark":{"type":"circle","size":75,"fill":"#00006e","stroke":"#2424b0","strokeWidth":1.2,"opacity":1},"encoding":{"x":{"field":"x","type":"quantitative","scale":{"domain":[-16.0,21.9],"nice":false,"zero":false},"axis":{"values":[0,20],"title":null}},"y":{"field":"y","type":"quantitative","scale":{"domain":[-15.9,17.3],"nice":false,"zero":false},"axis":{"values":[-10,0,10],"title":null}}}},
{"data":{"name":"g7"},"mark":{"type":"circle","size":75,"fill":"#005c00","stroke":"#1fa01f","strokeWidth":1.2,"opacity":1},"encoding":{"x":{"field":"x","type":"quantitative","scale":{"domain":[-16.0,21.9],"nice":false,"zero":false},"axis":{"values":[0,20],"title":null}},"y":{"field":"y","type":"quantitative","scale":{"domain":[-15.9,17.3],"nice":false,"zero":false},"axis":{"values":[-10,0,10],"title":null}}}},
{"data":{"name":"c7"},"mark":{"type":"circle","size":75,"fill":"#00006e","stroke":"#2424b0","strokeWidth":1.2,"opacity":1},"encoding":{"x":{"field":"x","type":"quantitative","scale":{"domain":[8.46,13.84],"nice":false,"zero":false},"axis":{"values":[10,12],"title":null}},"y":{"field":"y","type":"quantitative","scale":{"domain":[14.6,30.25],"nice":false,"zero":false},"axis":{"values":[15,20,25,30],"title":null}}}},
{"data":{"name":"h7"},"mark":{"type":"circle","size":75,"fill":"#005c00","stroke":"#1fa01f","strokeWidth":1.2,"opacity":1},"encoding":{"x":{"field":"x","type":"quantitative","scale":{"domain":[8.46,13.84],"nice":false,"zero":false},"axis":{"values":[10,12],"title":null}},"y":{"field":"y","type":"quantitative","scale":{"domain":[14.6,30.25],"nice":false,"zero":false},"axis":{"values":[15,20,25,30],"title":null}}}},

{"data":{"name":"d8"},"mark":{"type":"circle","size":68,"fill":"#061f93","stroke":"#2584e8","strokeWidth":2,"opacity":1},"encoding":{"x":{"field":"x","type":"quantitative","scale":{"domain":[-1.79,2.20],"nice":false,"zero":false},"axis":{"values":[0,2],"title":null}},"y":{"field":"y","type":"quantitative","scale":{"domain":[-2.43,1.89],"nice":false,"zero":false},"axis":{"values":[-2,-1,0,1],"title":null}}}},
{"data":{"name":"b8"},"mark":{"type":"circle","size":75,"fill":"#00006e","stroke":"#2424b0","strokeWidth":1.2,"opacity":1},"encoding":{"x":{"field":"x","type":"quantitative","scale":{"domain":[-13.5,23.9],"nice":false,"zero":false},"axis":{"values":[0,20],"title":null}},"y":{"field":"y","type":"quantitative","scale":{"domain":[-10.8,23.7],"nice":false,"zero":false},"axis":{"values":[-10,0,10,20],"title":null}}}},
{"data":{"name":"g8"},"mark":{"type":"circle","size":75,"fill":"#005c00","stroke":"#1fa01f","strokeWidth":1.2,"opacity":1},"encoding":{"x":{"field":"x","type":"quantitative","scale":{"domain":[-13.5,23.9],"nice":false,"zero":false},"axis":{"values":[0,20],"title":null}},"y":{"field":"y","type":"quantitative","scale":{"domain":[-10.8,23.7],"nice":false,"zero":false},"axis":{"values":[-10,0,10,20],"title":null}}}},
{"data":{"name":"c8"},"mark":{"type":"circle","size":75,"fill":"#00006e","stroke":"#2424b0","strokeWidth":1.2,"opacity":1},"encoding":{"x":{"field":"x","type":"quantitative","scale":{"domain":[8.9,18.2],"nice":false,"zero":false},"axis":{"values":[10,15],"title":null}},"y":{"field":"y","type":"quantitative","scale":{"domain":[6.6,23.6],"nice":false,"zero":false},"axis":{"values":[10,15,20],"title":null}}}},
{"data":{"name":"h8"},"mark":{"type":"circle","size":75,"fill":"#005c00","stroke":"#1fa01f","strokeWidth":1.2,"opacity":1},"encoding":{"x":{"field":"x","type":"quantitative","scale":{"domain":[8.9,18.2],"nice":false,"zero":false},"axis":{"values":[10,15],"title":null}},"y":{"field":"y","type":"quantitative","scale":{"domain":[6.6,23.6],"nice":false,"zero":false},"axis":{"values":[10,15,20],"title":null}}}}
]
}
